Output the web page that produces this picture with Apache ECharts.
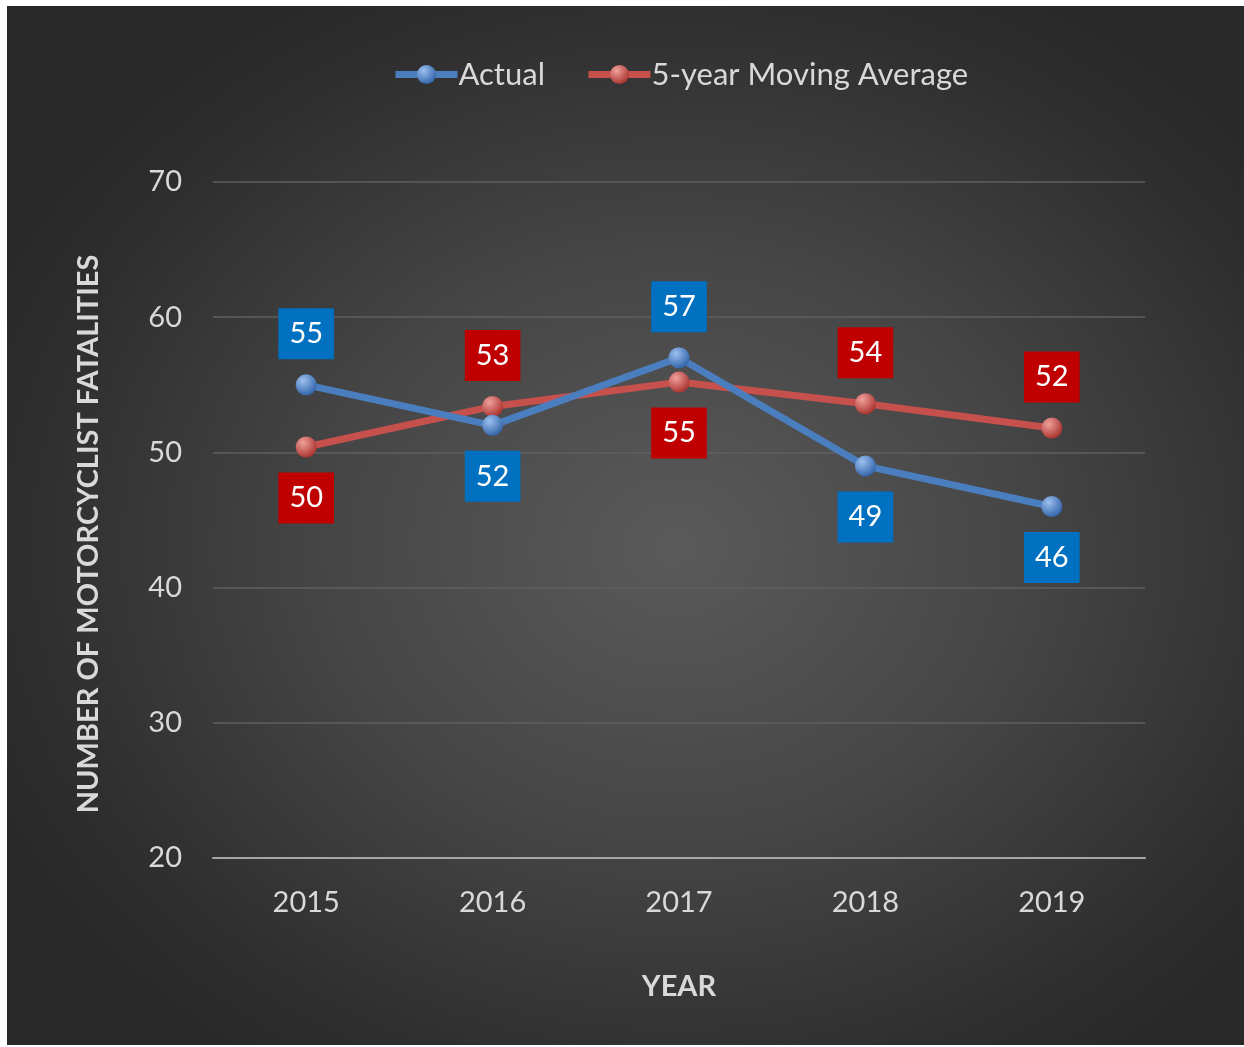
<!DOCTYPE html>
<html>
<head>
<meta charset="utf-8">
<script src="https://cdn.jsdelivr.net/npm/echarts@6/dist/echarts.min.js"></script>
<style>
  html, body { margin: 0; padding: 0; background: #ffffff; }
  #chart {
    position: absolute;
    left: 7px;
    top: 6px;
    width: 1237px;
    height: 1039px;
    background: radial-gradient(ellipse 62% 62% at 54% 52%, #5a5a5a 0%, #464646 45%, #2e2e2e 85%, #282828 100%);
  }
</style>
</head>
<body>
<div id="chart"></div>
<script>
// 数据
const years = ['2015', '2016', '2017', '2018', '2019']
const actual = [55, 52, 57, 49, 46]
const movingAvg = [50.4, 53.4, 55.2, 53.6, 51.8]
const seriesNames = ['Actual', '5-year Moving Average']

const FONT = 'Lato, "Open Sans", sans-serif'
const TEXT = '#d9d9d9'

// 球形标记
const sphere = (light, dark) => new echarts.graphic.RadialGradient(0.35, 0.3, 0.75, [
  { offset: 0, color: light },
  { offset: 1, color: dark }
])

// 标签放在另一条线的反方向
const buildData = (values, other) => values.map((v, i) => ({
  value: v,
  label: {
    position: v >= other[i] ? 'top' : 'bottom'
  }
}))

const labelStyle = (boxColor) => ({
  show: true,
  distance: 15,
  color: '#ffffff',
  fontFamily: FONT,
  fontSize: 29,
  lineHeight: 33,
  backgroundColor: boxColor,
  padding: [9, 11, 9, 11],
  formatter: (p) => Math.round(p.value)
})

const chart = echarts.init(document.getElementById('chart'))

chart.setOption({
  backgroundColor: 'transparent',
  animation: false,
  textStyle: { fontFamily: FONT },
  legend: {
    left: 380,
    top: 48,
    itemWidth: 62,
    itemHeight: 24,
    itemGap: 40,
    lineStyle: { width: 7 },
    textStyle: { color: TEXT, fontSize: 31, fontFamily: FONT, padding: [0, 0, 0, -4] },
    data: seriesNames
  },
  grid: {
    left: 206,
    right: 99,
    top: 176,
    bottom: 187
  },
  xAxis: {
    type: 'category',
    data: years,
    name: 'YEAR',
    nameLocation: 'middle',
    nameGap: 114,
    nameTextStyle: { color: TEXT, fontSize: 29, fontWeight: 'bold', fontFamily: FONT, verticalAlign: 'top' },
    axisLine: { lineStyle: { color: '#a6a6a6', width: 2 } },
    axisTick: { show: false },
    axisLabel: { color: TEXT, fontSize: 29, margin: 30, fontFamily: FONT }
  },
  yAxis: {
    type: 'value',
    min: 20,
    max: 70,
    interval: 10,
    name: 'NUMBER OF MOTORCYCLIST FATALITIES',
    nameLocation: 'middle',
    nameGap: 110,
    nameTextStyle: { color: TEXT, fontSize: 29, fontWeight: 'bold', fontFamily: FONT, padding: [0, 28, 0, 0] },
    axisLine: { show: false },
    axisTick: { show: false },
    axisLabel: { color: TEXT, fontSize: 29, margin: 31, fontFamily: FONT },
    splitLine: { lineStyle: { color: '#5f5f5f', width: 1.5 } }
  },
  series: [
    {
      name: seriesNames[0],
      type: 'line',
      data: buildData(actual, movingAvg),
      symbol: 'circle',
      symbolSize: 21,
      lineStyle: { color: '#4a7ebf', width: 7 },
      itemStyle: { color: sphere('#9cc0ef', '#2f62a8'), borderWidth: 0 },
      label: labelStyle('#0070c0'),
      z: 3
    },
    {
      name: seriesNames[1],
      type: 'line',
      data: buildData(movingAvg, actual),
      symbol: 'circle',
      symbolSize: 21,
      lineStyle: { color: '#c6504c', width: 7 },
      itemStyle: { color: sphere('#f0a09c', '#a8302c'), borderWidth: 0 },
      label: labelStyle('#c00000'),
      z: 2
    }
  ]
})
</script>
</body>
</html>
